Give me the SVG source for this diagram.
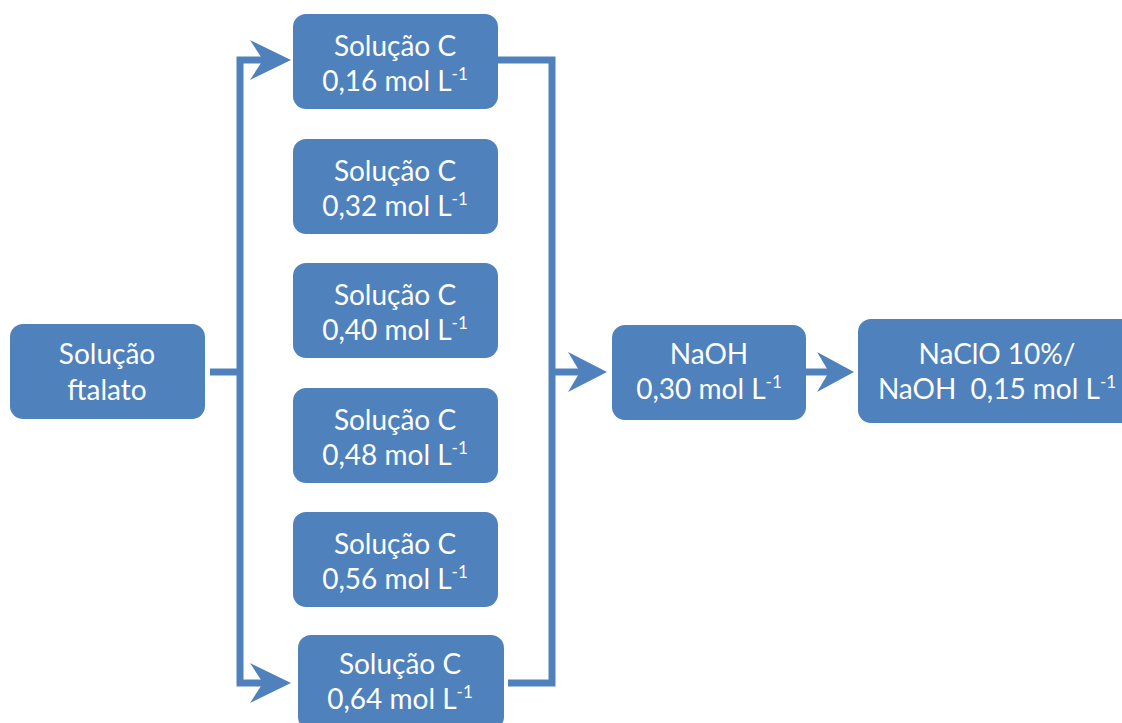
<svg xmlns="http://www.w3.org/2000/svg" width="1122" height="723" viewBox="0 0 1122 723">
<style>
.box{fill:#4F81BD;}
.t{fill:#fff;font-family:Lato,"Open Sans","Liberation Sans",sans-serif;font-size:28px;text-anchor:middle;white-space:pre;}
.sup{font-size:17px;}
.ln{fill:none;stroke:#4F81BD;stroke-width:7;stroke-linejoin:miter;}
.ah{fill:#4F81BD;}
</style>
<rect width="1122" height="723" fill="#fff"/>
<g id="connectors">
<polyline class="ln" points="210,372 240,372"/>
<polyline class="ln" points="270,60 240,60 240,683 270,683"/>
<polyline class="ln" points="498,60 552,60 552,683 508,683"/>
<polyline class="ln" points="552,372 588,372"/>
<polyline class="ln" points="805,372 838,372"/>
<polygon class="ah" points="291,60 250,40 263,60 250,80"/>
<polygon class="ah" points="291,683 250,663 263,683 250,703"/>
<polygon class="ah" points="607,372 568,352 580,372 568,392"/>
<polygon class="ah" points="854,372 817,352 829,372 817,392"/>
</g>
<g id="ftalato">
<rect class="box" x="10" y="324" width="195" height="95" rx="13"/>
<text class="t" x="107" y="364">Solução</text>
<text class="t" x="107" y="400">ftalato</text>
</g>
<g id="c016">
<rect class="box" x="293" y="14" width="205" height="95" rx="13"/>
<text class="t" x="395" y="56">Solução C</text>
<text class="t" x="395" y="91">0,16 mol L<tspan class="sup" dy="-11">-1</tspan></text>
</g>
<g id="c032">
<rect class="box" x="293" y="139" width="205" height="95" rx="13"/>
<text class="t" x="395" y="181">Solução C</text>
<text class="t" x="395" y="216">0,32 mol L<tspan class="sup" dy="-11">-1</tspan></text>
</g>
<g id="c040">
<rect class="box" x="293" y="263" width="205" height="95" rx="13"/>
<text class="t" x="395" y="305">Solução C</text>
<text class="t" x="395" y="340">0,40 mol L<tspan class="sup" dy="-11">-1</tspan></text>
</g>
<g id="c048">
<rect class="box" x="293" y="388" width="205" height="95" rx="13"/>
<text class="t" x="395" y="430">Solução C</text>
<text class="t" x="395" y="465">0,48 mol L<tspan class="sup" dy="-11">-1</tspan></text>
</g>
<g id="c056">
<rect class="box" x="293" y="512" width="205" height="95" rx="13"/>
<text class="t" x="395" y="554">Solução C</text>
<text class="t" x="395" y="589">0,56 mol L<tspan class="sup" dy="-11">-1</tspan></text>
</g>
<g id="c064">
<rect class="box" x="298" y="635" width="206" height="95" rx="13"/>
<text class="t" x="400" y="674">Solução C</text>
<text class="t" x="400" y="709">0,64 mol L<tspan class="sup" dy="-11">-1</tspan></text>
</g>
<g id="naoh">
<rect class="box" x="612" y="325" width="194" height="95" rx="13"/>
<text class="t" x="709" y="364">NaOH</text>
<text class="t" x="709" y="399">0,30 mol L<tspan class="sup" dy="-11">-1</tspan></text>
</g>
<g id="naclo">
<rect class="box" x="858" y="319" width="280" height="104" rx="13"/>
<text class="t" x="997" y="364">NaClO 10%/</text>
<text class="t" x="997" y="399">NaOH  0,15 mol L<tspan class="sup" dy="-11">-1</tspan></text>
</g>
</svg>
